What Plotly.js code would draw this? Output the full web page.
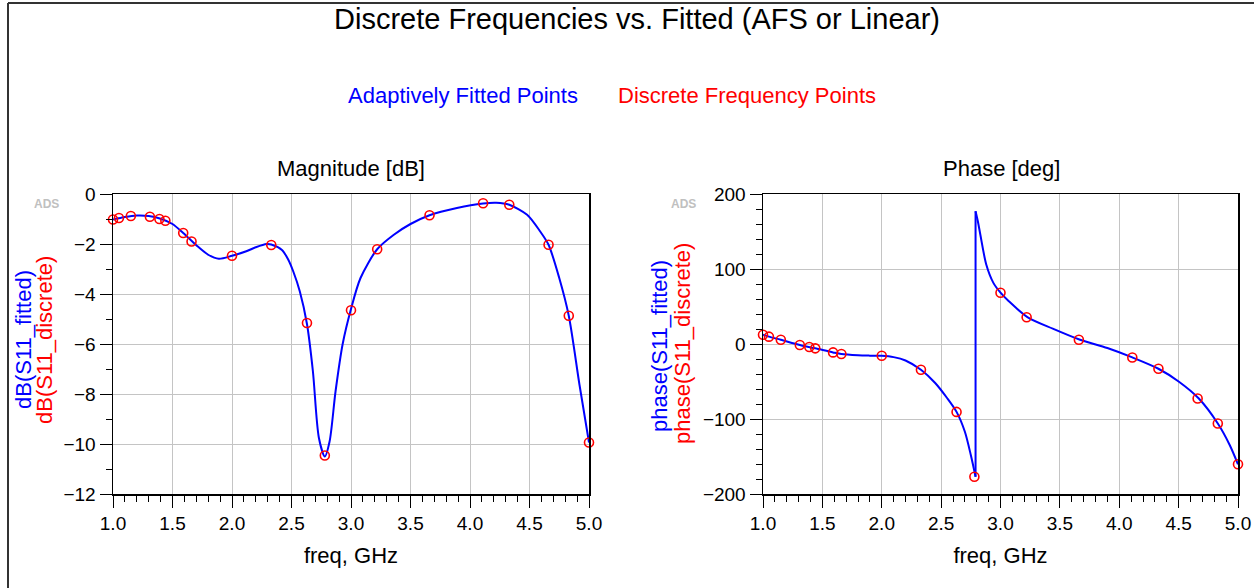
<!DOCTYPE html>
<html>
<head>
<meta charset="utf-8">
<script src="https://cdn.plot.ly/plotly-3.0.1.min.js"></script>
<style>html,body{margin:0;padding:0;background:#fff;}#chart{width:1254px;height:588px;}</style>
</head>
<body>
<div id="chart"></div>
<script>
// Discrete frequency points (GHz)
const freqDiscrete = [1.0, 1.05, 1.15, 1.31, 1.39, 1.44, 1.59, 1.66, 2.0, 2.33, 2.63, 2.78, 3.0, 3.22, 3.66, 4.11, 4.33, 4.66, 4.83, 5.0];
const magDiscrete = [-1.02, -0.96, -0.88, -0.91, -1.0, -1.07, -1.56, -1.9, -2.47, -2.04, -5.16, -10.46, -4.65, -2.21, -0.85, -0.37, -0.43, -2.03, -4.87, -9.94];
const phaseDiscrete = [12.4, 9.8, 5.7, -1.3, -4.0, -5.8, -11.2, -13.4, -15.6, -34.4, -90.5, -177, 68.4, 35.6, 5.7, -17.9, -33, -72.7, -106, -160.4];

// Adaptively fitted magnitude curve
const freqFitMag = [1.0, 1.1, 1.2, 1.3, 1.4, 1.5, 1.59, 1.7, 1.8, 1.89, 2.0, 2.12, 2.2, 2.29, 2.33, 2.42, 2.47, 2.515, 2.57, 2.63, 2.68, 2.73, 2.78, 2.82, 2.87, 2.93, 3.0, 3.08, 3.22, 3.36, 3.5, 3.66, 3.89, 4.11, 4.22, 4.33, 4.48, 4.59, 4.66, 4.75, 4.83, 4.92, 5.0];
const magFit = [-1.02, -0.92, -0.86, -0.88, -0.99, -1.2, -1.56, -2.05, -2.43, -2.59, -2.47, -2.29, -2.13, -2.0, -2.02, -2.24, -2.6, -3.1, -3.9, -5.2, -7.1, -9.75, -10.5, -9.9, -7.9, -6.0, -4.6, -3.36, -2.21, -1.63, -1.2, -0.85, -0.56, -0.38, -0.35, -0.43, -0.83, -1.5, -2.03, -3.36, -4.87, -7.63, -9.94];

// Adaptively fitted phase curve (two branches around the wrap)
const freqFitPhaseA = [1.0, 1.05, 1.15, 1.31, 1.44, 1.59, 1.66, 1.8, 1.9, 2.0, 2.1, 2.2, 2.33, 2.45, 2.55, 2.63, 2.7, 2.75, 2.79];
const phaseFitA = [12.4, 9.8, 5.7, -1.3, -5.8, -11.2, -13.4, -15.0, -15.5, -15.8, -17.5, -22, -34.4, -52, -72, -90.5, -117, -148, -177];
const freqFitPhaseB = [2.79, 2.81, 2.83, 2.88, 2.94, 3.0, 3.07, 3.23, 3.44, 3.67, 3.9, 4.11, 4.33, 4.5, 4.67, 4.83, 4.93, 5.0];
const phaseFitB = [177, 163, 146, 106, 81.5, 68.4, 57, 35.6, 20.5, 5.7, -5.4, -17.9, -33, -50, -72.7, -106, -134.6, -160.4];

const xTicks = [1.0, 1.5, 2.0, 2.5, 3.0, 3.5, 4.0, 4.5, 5.0];
const xTickText = ['1.0', '1.5', '2.0', '2.5', '3.0', '3.5', '4.0', '4.5', '5.0'];

const W = 1254, H = 588;
const FONT = 'Liberation Sans, Arial, sans-serif';
const BLUE = '#0000ff', RED = '#ff0000';

const fitLine = {color: BLUE, width: 2, shape: 'spline', smoothing: 0.8};
const dotMarker = {symbol: 'circle-open', size: 9, color: RED, line: {width: 1.6, color: RED}};

const traces = [
  {x: freqFitMag, y: magFit, mode: 'lines', line: fitLine, xaxis: 'x', yaxis: 'y', hoverinfo: 'skip'},
  {x: freqDiscrete, y: magDiscrete, mode: 'markers', marker: dotMarker, xaxis: 'x', yaxis: 'y', cliponaxis: false},
  {x: freqFitPhaseA, y: phaseFitA, mode: 'lines', line: fitLine, xaxis: 'x2', yaxis: 'y2'},
  {x: [freqFitPhaseA[freqFitPhaseA.length - 1], freqFitPhaseB[0]], y: [phaseFitA[phaseFitA.length - 1], phaseFitB[0]], mode: 'lines', line: {color: BLUE, width: 2}, xaxis: 'x2', yaxis: 'y2'},
  {x: freqFitPhaseB, y: phaseFitB, mode: 'lines', line: fitLine, xaxis: 'x2', yaxis: 'y2'},
  {x: freqDiscrete, y: phaseDiscrete, mode: 'markers', marker: dotMarker, xaxis: 'x2', yaxis: 'y2', cliponaxis: false}
];

function xAxis(domain, anchor) {
  return {
    domain: domain, anchor: anchor, range: [1, 5],
    tickmode: 'array', tickvals: xTicks, ticktext: xTickText,
    ticks: 'outside', ticklen: 12, tickwidth: 1, tickcolor: '#000',
    minor: {dtick: 0.1, ticks: 'outside', ticklen: 6, tickwidth: 1, tickcolor: '#000', showgrid: false},
    showline: true, linecolor: '#000', linewidth: 1.5, mirror: true,
    showgrid: true, gridcolor: '#c4c4c4', gridwidth: 1,
    zeroline: false,
    tickfont: {family: FONT, size: 19, color: '#000'},
    title: {text: 'freq, GHz', font: {family: FONT, size: 22, color: '#000'}, standoff: 14}
  };
}
function yAxis(domain, anchor, range, dtick, minorDtick) {
  return {
    domain: domain, anchor: anchor, range: range, dtick: dtick, tick0: 0,
    ticks: 'outside', ticklen: 12, tickwidth: 1, tickcolor: '#000',
    minor: {dtick: minorDtick, ticks: 'outside', ticklen: 6, tickwidth: 1, tickcolor: '#000', showgrid: false},
    showline: true, linecolor: '#000', linewidth: 1.5, mirror: true,
    showgrid: true, gridcolor: '#c4c4c4', gridwidth: 1,
    zeroline: false,
    tickfont: {family: FONT, size: 19, color: '#000'}
  };
}

const px = v => v / W;
const py = v => 1 - v / H;
const yDom = [py(494), py(194)];

function ann(text, x, y, size, color, extra) {
  return Object.assign({text: text, xref: 'paper', yref: 'paper', x: px(x), y: py(y), xanchor: 'center', yanchor: 'middle', showarrow: false, font: {family: FONT, size: size, color: color}}, extra || {});
}

const layout = {
  width: W, height: H,
  margin: {l: 0, r: 0, t: 0, b: 0},
  paper_bgcolor: '#fff', plot_bgcolor: '#fff',
  showlegend: false,
  title: {text: 'Discrete Frequencies vs. Fitted (AFS or Linear)', x: px(637), xanchor: 'center', y: py(19), yanchor: 'middle', font: {family: FONT, size: 29, color: '#000'}},
  xaxis: xAxis([px(113), px(589)], 'y'),
  yaxis: yAxis(yDom, 'x', [-12, 0], 2, 1),
  xaxis2: xAxis([px(763), px(1238)], 'y2'),
  yaxis2: yAxis(yDom, 'x2', [-200, 200], 100, 20),
  annotations: [
    ann('Adaptively Fitted Points', 463, 95, 22, BLUE),
    ann('Discrete Frequency Points', 747, 95, 22, RED),
    ann('Magnitude [dB]', 351, 168, 22, '#000'),
    ann('Phase [deg]', 1001, 168, 22, '#000'),
    ann('dB(S11_fitted)', 23, 340, 22, BLUE, {textangle: -90}),
    ann('dB(S11_discrete)', 44, 340, 22, RED, {textangle: -90}),
    ann('phase(S11_fitted)', 659, 346, 22, BLUE, {textangle: -90}),
    ann('phase(S11_discrete)', 682, 344, 22, RED, {textangle: -90}),
    ann('<b>ADS</b>', 46, 204, 12, '#c0c0c0'),
    ann('<b>ADS</b>', 683, 204, 12, '#c0c0c0')
  ],
  shapes: [
    {type: 'line', xref: 'paper', yref: 'paper', x0: px(8), x1: px(8), y0: py(3), y1: -0.02, line: {color: '#333', width: 2}},
    {type: 'line', xref: 'paper', yref: 'paper', x0: px(8), x1: 1.02, y0: py(3), y1: py(3), line: {color: '#333', width: 2}}
  ]
};

Plotly.newPlot('chart', traces, layout, {displayModeBar: false, staticPlot: true});
</script>
</body>
</html>
